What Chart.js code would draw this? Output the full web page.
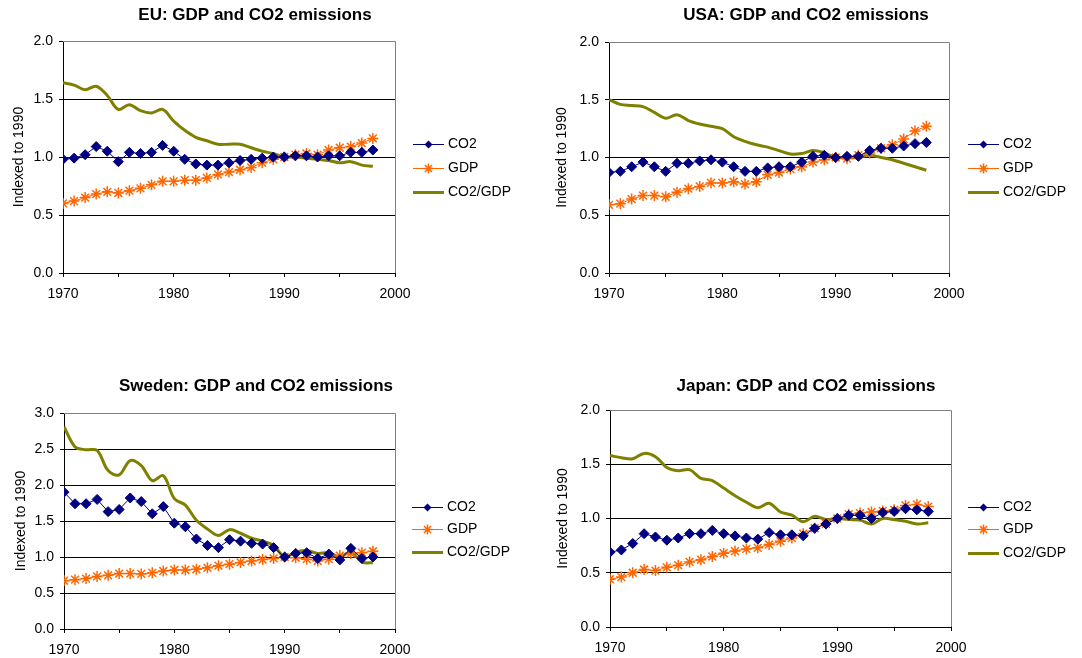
<!DOCTYPE html>
<html>
<head>
<meta charset="utf-8">
<title>GDP and CO2 emissions</title>
<script src="https://cdn.jsdelivr.net/npm/chart.js@4.4.1/dist/chart.umd.min.js"></script>
<style>
  body { margin: 0; background: #fff; }
  #wrap { position: relative; width: 1082px; height: 658px; }
  #wrap canvas { position: absolute; }
</style>
</head>
<body>
<div id="wrap">
  <canvas id="eu" width="540" height="330" style="left:0;top:0"></canvas>
  <canvas id="usa" width="542" height="330" style="left:540px;top:0"></canvas>
  <canvas id="sweden" width="540" height="328" style="left:0;top:330px"></canvas>
  <canvas id="japan" width="542" height="328" style="left:540px;top:330px"></canvas>
</div>
<script>
const years = [1970, 1971, 1972, 1973, 1974, 1975, 1976, 1977, 1978, 1979,
               1980, 1981, 1982, 1983, 1984, 1985, 1986, 1987, 1988, 1989,
               1990, 1991, 1992, 1993, 1994, 1995, 1996, 1997, 1998];
const seriesNames = ['CO2', 'GDP', 'CO2/GDP'];
const yAxisTitle = 'Indexed to 1990';

// EU
const euCO2 = [0.98, 0.99, 1.02, 1.09, 1.05, 0.96, 1.04, 1.03, 1.04, 1.10,
               1.05, 0.98, 0.94, 0.93, 0.93, 0.95, 0.97, 0.98, 0.99, 1.00,
               1.00, 1.01, 1.01, 1.00, 1.01, 1.01, 1.04, 1.04, 1.06];
const euGDP = [0.60, 0.62, 0.65, 0.68, 0.70, 0.69, 0.71, 0.73, 0.76, 0.79,
               0.79, 0.80, 0.80, 0.82, 0.85, 0.87, 0.89, 0.91, 0.95, 0.98,
               1.00, 1.02, 1.03, 1.02, 1.06, 1.08, 1.09, 1.12, 1.16];
const euRatio = [1.64, 1.62, 1.58, 1.61, 1.53, 1.41, 1.45, 1.40, 1.38, 1.41,
                 1.31, 1.23, 1.17, 1.14, 1.11, 1.11, 1.11, 1.08, 1.05, 1.03,
                 1.00, 1.00, 0.99, 0.98, 0.97, 0.95, 0.96, 0.93, 0.92];

// USA
const usCO2 = [0.87, 0.88, 0.92, 0.96, 0.92, 0.88, 0.95, 0.95, 0.97, 0.98,
               0.96, 0.92, 0.88, 0.88, 0.91, 0.92, 0.92, 0.96, 1.01, 1.02,
               1.00, 1.01, 1.01, 1.06, 1.08, 1.08, 1.10, 1.12, 1.13];
const usGDP = [0.59, 0.60, 0.64, 0.67, 0.67, 0.66, 0.70, 0.73, 0.75, 0.78,
               0.78, 0.79, 0.77, 0.79, 0.85, 0.87, 0.90, 0.92, 0.96, 0.98,
               1.00, 0.99, 1.02, 1.04, 1.08, 1.11, 1.16, 1.23, 1.27];
const usRatio = [1.50, 1.46, 1.45, 1.44, 1.39, 1.34, 1.37, 1.32, 1.29, 1.27,
                 1.25, 1.18, 1.14, 1.11, 1.09, 1.06, 1.03, 1.035, 1.06, 1.04,
                 1.00, 1.00, 1.00, 1.02, 1.00, 0.98, 0.95, 0.92, 0.89];

// Sweden
const seCO2 = [1.90, 1.74, 1.74, 1.80, 1.63, 1.66, 1.82, 1.77, 1.60, 1.70,
               1.47, 1.42, 1.25, 1.16, 1.13, 1.24, 1.22, 1.19, 1.18, 1.13,
               1.00, 1.05, 1.06, 0.98, 1.04, 0.96, 1.12, 0.98, 1.00];
const seGDP = [0.67, 0.685, 0.70, 0.73, 0.745, 0.77, 0.77, 0.765, 0.78, 0.805,
               0.82, 0.82, 0.83, 0.85, 0.88, 0.90, 0.925, 0.945, 0.965, 0.98,
               1.00, 0.99, 0.97, 0.945, 0.97, 1.02, 1.05, 1.06, 1.08];
const seRatio = [2.81, 2.53, 2.49, 2.48, 2.20, 2.14, 2.34, 2.27, 2.06, 2.13,
                 1.81, 1.72, 1.51, 1.39, 1.30, 1.38, 1.33, 1.26, 1.22, 1.16,
                 1.00, 1.07, 1.09, 1.05, 1.06, 1.00, 1.07, 0.93, 0.92];

// Japan
const jpCO2 = [0.69, 0.71, 0.77, 0.86, 0.83, 0.80, 0.82, 0.86, 0.86, 0.89,
               0.86, 0.84, 0.82, 0.81, 0.87, 0.85, 0.85, 0.84, 0.91, 0.95,
               1.00, 1.03, 1.03, 1.00, 1.055, 1.065, 1.09, 1.08, 1.065];
const jpGDP = [0.44, 0.46, 0.50, 0.53, 0.52, 0.55, 0.57, 0.60, 0.62, 0.65,
               0.68, 0.70, 0.72, 0.73, 0.76, 0.79, 0.82, 0.86, 0.91, 0.95,
               1.00, 1.04, 1.05, 1.06, 1.07, 1.08, 1.12, 1.13, 1.11];
const jpRatio = [1.58, 1.56, 1.55, 1.60, 1.57, 1.47, 1.44, 1.45, 1.37, 1.35,
                 1.28, 1.21, 1.15, 1.10, 1.14, 1.06, 1.03, 0.97, 1.02, 0.99,
                 1.00, 0.99, 0.985, 0.95, 1.00, 0.99, 0.975, 0.95, 0.96];

const FONT = 'Arial, "Liberation Sans", sans-serif';
Chart.defaults.font.family = FONT;
Chart.defaults.font.size = 14;
Chart.defaults.color = '#000';

const colors = { co2: '#000080', gdp: '#ff6600', ratio: '#808000' };

// layout of each panel, in canvas pixels
const panels = [
  { id: 'eu', title: 'EU: GDP and CO2 emissions', co2: euCO2, gdp: euGDP, ratio: euRatio, yMax: 2,
    area: { left: 63, right: 395, top: 41, bottom: 273 }, yTitleX: 19.6,
    titleX: 255, titleY: 15.5, legendX: 413, legendY: [144, 168, 192] },
  { id: 'usa', title: 'USA: GDP and CO2 emissions', co2: usCO2, gdp: usGDP, ratio: usRatio, yMax: 2,
    area: { left: 69, right: 409, top: 42, bottom: 273 }, yTitleX: 22.4,
    titleX: 266, titleY: 15.5, legendX: 428, legendY: [144, 168, 192] },
  { id: 'sweden', title: 'Sweden: GDP and CO2 emissions', co2: seCO2, gdp: seGDP, ratio: seRatio, yMax: 3,
    area: { left: 64, right: 395, top: 83, bottom: 299 }, yTitleX: 20.7,
    titleX: 256, titleY: 56.5, legendX: 412, legendY: [177, 199, 222] },
  { id: 'japan', title: 'Japan: GDP and CO2 emissions', co2: jpCO2, gdp: jpGDP, ratio: jpRatio, yMax: 2,
    area: { left: 70, right: 411, top: 80, bottom: 297 }, yTitleX: 23,
    titleX: 266, titleY: 56.5, legendX: 428, legendY: [177, 199, 223] }
];

function drawMarker(ctx, style, x, y, r, color) {
  ctx.save();
  ctx.fillStyle = color;
  ctx.strokeStyle = color;
  ctx.lineWidth = 1.5;
  ctx.beginPath();
  if (style === 'rectRot') {
    ctx.moveTo(x, y - r); ctx.lineTo(x + r, y); ctx.lineTo(x, y + r); ctx.lineTo(x - r, y);
    ctx.closePath();
    ctx.fill();
  } else if (style === 'star') {
    const d = r * Math.SQRT1_2;
    ctx.moveTo(x - r, y); ctx.lineTo(x + r, y);
    ctx.moveTo(x, y - r); ctx.lineTo(x, y + r);
    ctx.moveTo(x - d, y - d); ctx.lineTo(x + d, y + d);
    ctx.moveTo(x - d, y + d); ctx.lineTo(x + d, y - d);
    ctx.stroke();
  }
  ctx.restore();
}

// plot frame, title and legend drawn around the chart area
const panelDecor = {
  id: 'panelDecor',
  beforeDatasetsDraw(chart, args, o) {
    const { ctx, chartArea: a } = chart;
    ctx.save();
    ctx.strokeStyle = '#808080';
    ctx.lineWidth = 1;
    ctx.beginPath();
    ctx.moveTo(a.left, Math.round(a.top) + 0.5);
    ctx.lineTo(Math.round(a.right) + 0.5, Math.round(a.top) + 0.5);
    ctx.lineTo(Math.round(a.right) + 0.5, a.bottom);
    ctx.stroke();
    ctx.restore();
  },
  afterDraw(chart, args, o) {
    const ctx = chart.ctx;
    ctx.save();
    ctx.fillStyle = '#000';
    ctx.font = 'bold 17px ' + FONT;
    ctx.textAlign = 'center';
    ctx.textBaseline = 'middle';
    ctx.fillText(o.title, o.titleX, o.titleY);

    ctx.font = '14px ' + FONT;
    ctx.textAlign = 'left';
    chart.data.datasets.forEach((ds, i) => {
      const y = Math.round(o.legendY[i]) + 0.5;
      const x0 = o.legendX, x1 = o.legendX + 31;
      ctx.strokeStyle = ds.borderColor;
      ctx.lineWidth = ds.borderWidth;
      ctx.beginPath();
      ctx.moveTo(x0, y);
      ctx.lineTo(x1, y);
      ctx.stroke();
      if (ds.pointRadius > 0) {
        drawMarker(ctx, ds.pointStyle, (x0 + x1) / 2, y, ds.pointStyle === 'star' ? 5 : 4, ds.borderColor);
      }
      ctx.fillStyle = '#000';
      ctx.fillText(ds.label, x1 + 4, y);
    });
    ctx.restore();
  }
};

function toPoints(values) {
  return years.map((yr, i) => ({ x: yr, y: values[i] }));
}

panels.forEach(p => {
  const canvas = document.getElementById(p.id);
  const W = canvas.width, H = canvas.height;
  new Chart(canvas.getContext('2d'), {
    type: 'line',
    data: {
      datasets: [
        {
          label: seriesNames[0], data: toPoints(p.co2),
          borderColor: colors.co2, backgroundColor: colors.co2, borderWidth: 1,
          pointStyle: 'rectRot', pointRadius: 5, pointBorderWidth: 1,
          pointBackgroundColor: colors.co2, tension: 0
        },
        {
          label: seriesNames[1], data: toPoints(p.gdp),
          borderColor: colors.gdp, backgroundColor: colors.gdp, borderWidth: 1,
          pointStyle: 'star', pointRadius: 5.5, pointBorderWidth: 1.5, tension: 0
        },
        {
          label: seriesNames[2], data: toPoints(p.ratio),
          borderColor: colors.ratio, backgroundColor: colors.ratio, borderWidth: 3,
          pointRadius: 0, tension: 0.35
        }
      ]
    },
    options: {
      responsive: false,
      animation: false,
      events: [],
      layout: { padding: { left: 0, top: p.area.top, right: W - p.area.right, bottom: 0 } },
      plugins: {
        legend: { display: false },
        title: { display: false },
        tooltip: { enabled: false },
        panelDecor: { title: p.title, titleX: p.titleX, titleY: p.titleY, legendX: p.legendX, legendY: p.legendY }
      },
      scales: {
        x: {
          type: 'linear', min: 1970, max: 2000,
          afterFit: s => { s.height = H - p.area.bottom; },
          ticks: {
            stepSize: 5, autoSkip: false, maxRotation: 0, padding: 9,
            callback: v => (v % 10 === 0 ? String(v) : '')
          },
          grid: { drawOnChartArea: false, tickLength: 4, color: '#000' },
          border: { color: '#000' }
        },
        y: {
          min: 0, max: p.yMax,
          afterFit: s => { s.width = p.area.left; },
          ticks: { stepSize: 0.5, padding: 6, callback: v => v.toFixed(1) },
          grid: {
            color: c => (c.tick && c.tick.value === p.yMax ? 'rgba(0,0,0,0)' : '#000'),
            tickColor: '#000', tickLength: 4
          },
          border: { color: '#000' },
          title: {
            display: true, text: yAxisTitle, font: { size: 14 },
            padding: { top: p.yTitleX - 8.4, bottom: 0 }
          }
        }
      }
    },
    plugins: [panelDecor]
  });
});
</script>
</body>
</html>
